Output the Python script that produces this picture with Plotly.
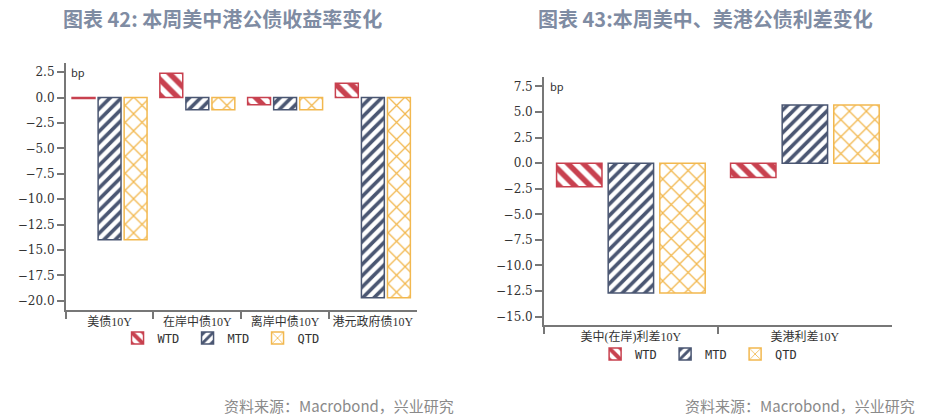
import plotly.graph_objects as go

# chart 42: yield changes (bp)
cats_left = ['美债10Y', '在岸中债10Y', '离岸中债10Y', '港元政府债10Y']
wtd_left = [-0.1, 2.4, -0.7, 1.4]
mtd_left = [-14.0, -1.2, -1.2, -19.7]
qtd_left = [-14.0, -1.2, -1.2, -19.7]

# chart 43: spread changes (bp)
cats_right = ['美中(在岸)利差10Y', '美港利差10Y']
wtd_right = [-2.3, -1.4]
mtd_right = [-12.7, 5.7]
qtd_right = [-12.7, 5.7]

series_names = ['WTD', 'MTD', 'QTD']
colors = ['#C8414F', '#4A5672', '#F2B84F']
shapes = ['\\', '/', 'x']
psize = [11, 8, 12]
psolid = [0.5, 0.45, 0.2]

fig = go.Figure()

left_vals = [wtd_left, mtd_left, qtd_left]
right_vals = [wtd_right, mtd_right, qtd_right]

for i in range(3):
    fig.add_trace(go.Bar(x=cats_left, y=left_vals[i], name=series_names[i],
                         xaxis='x', yaxis='y', legend='legend',
                         marker=dict(color='white',
                                     line=dict(color=colors[i], width=1.5),
                                     pattern=dict(shape=shapes[i], fgcolor=colors[i], bgcolor='white',
                                                  fgopacity=1, size=psize[i], solidity=psolid[i]))))
for i in range(3):
    fig.add_trace(go.Bar(x=cats_right, y=right_vals[i], name=series_names[i],
                         xaxis='x2', yaxis='y2', legend='legend2',
                         marker=dict(color='white',
                                     line=dict(color=colors[i], width=1.5),
                                     pattern=dict(shape=shapes[i], fgcolor=colors[i], bgcolor='white',
                                                  fgopacity=1, size=psize[i], solidity=psolid[i]))))

axis_col = '#777777'
tickfont = dict(family='DejaVu Serif', size=12, color='#333333')
catfont = dict(family='Liberation Serif, Noto Sans CJK SC', size=12, color='#333333')

xcommon = dict(showline=True, linecolor=axis_col, linewidth=1.5, ticks='outside', tickson='boundaries',
               ticklen=7, tickcolor=axis_col, tickwidth=1.5, showgrid=False, tickfont=catfont,
               zeroline=False, fixedrange=True)
ycommon = dict(showline=True, linecolor=axis_col, linewidth=1.5, ticks='outside', ticklen=7,
               tickcolor=axis_col, tickwidth=1.5, showgrid=False, zeroline=False, dtick=2.5,
               tickformat='.1f', tickfont=tickfont, fixedrange=True)

legfont = dict(family='DejaVu Sans Mono', size=12, color='#333333')

fig.update_layout(
    width=941, height=420,
    margin=dict(l=0, r=0, t=0, b=0),
    paper_bgcolor='white', plot_bgcolor='white',
    barmode='group', bargap=0.11, bargroupgap=0.12,
    xaxis=dict(domain=[0.0698, 0.4428], anchor='y', range=[-0.5, 3.499], **xcommon),
    yaxis=dict(domain=[0.262, 0.85], anchor='x', range=[-20.9, 3.4], **ycommon),
    xaxis2=dict(domain=[0.578, 0.9476], anchor='y2', range=[-0.5, 1.499], **xcommon),
    yaxis2=dict(domain=[0.2255, 0.816], anchor='x2', range=[-15.85, 8.4], **ycommon),
    legend=dict(orientation='h', x=0.2365, xanchor='center', y=0.195, yanchor='middle',
                font=legfont, itemwidth=30, entrywidth=25, bgcolor='rgba(0,0,0,0)'),
    legend2=dict(orientation='h', x=0.744, xanchor='center', y=0.157, yanchor='middle',
                 font=legfont, itemwidth=30, entrywidth=25, bgcolor='rgba(0,0,0,0)'),
    font=dict(family='Noto Sans CJK SC'),
)

title_font = dict(family='Noto Sans CJK SC', size=20, color='#7F8CA3')
fig.add_annotation(text='<b>图表 42: 本周美中港公债收益率变化</b>', xref='paper', yref='paper',
                   x=0.236, y=0.957, xanchor='center', yanchor='middle', showarrow=False, font=title_font)
fig.add_annotation(text='<b>图表 43:本周美中、美港公债利差变化</b>', xref='paper', yref='paper',
                   x=0.75, y=0.957, xanchor='center', yanchor='middle', showarrow=False, font=title_font)

bp_font = dict(family='Noto Sans CJK SC', size=11, color='#333333')
fig.add_annotation(text='bp', xref='x domain', yref='y', x=0.01, y=2.5, xanchor='left', yanchor='middle',
                   showarrow=False, font=bp_font)
fig.add_annotation(text='bp', xref='x2 domain', yref='y2', x=0.012, y=7.5, xanchor='left', yanchor='middle',
                   showarrow=False, font=bp_font)

foot_font = dict(family='Noto Sans CJK SC', size=15, color='#8A8A8A')
fig.add_annotation(text='资料来源：Macrobond，兴业研究', xref='paper', yref='paper',
                   x=0.236, y=0.035, xanchor='left', yanchor='middle', showarrow=False, font=foot_font)
fig.add_annotation(text='资料来源：Macrobond，兴业研究', xref='paper', yref='paper',
                   x=0.726, y=0.035, xanchor='left', yanchor='middle', showarrow=False, font=foot_font)

fig.write_html('out.html', config={'displayModeBar': False},
               post_script="document.body.style.margin='0';")
